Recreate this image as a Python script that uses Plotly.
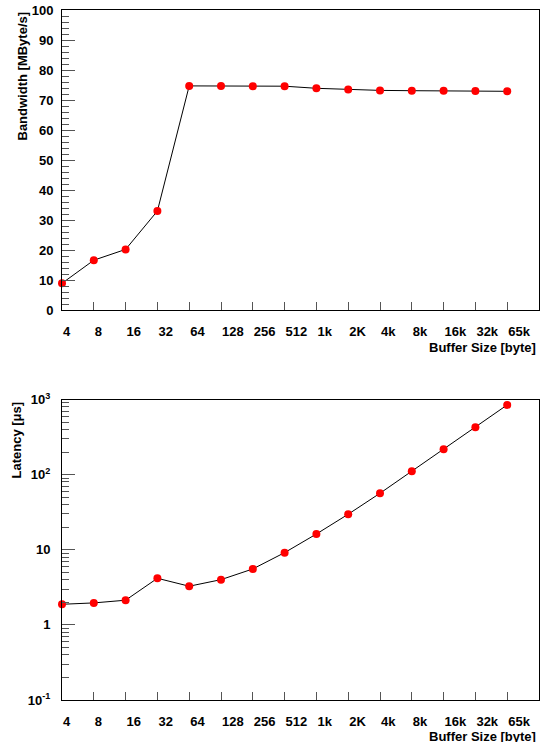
import plotly.graph_objects as go

buffer_labels = ["4", "8", "16", "32", "64", "128", "256", "512", "1k", "2K",
                 "4k", "8k", "16k", "32k", "65k"]
bandwidth_mb_s = [8.9, 16.6, 20.2, 33.0, 74.7, 74.7, 74.6, 74.6, 73.9, 73.5,
                  73.2, 73.1, 73.1, 73.0, 72.9]
latency_us = [1.88, 1.96, 2.13, 4.17, 3.27, 4.0, 5.55, 9.15, 16.2, 29.7,
              56.5, 111, 218, 428, 847]

W, H = 540, 742
x_idx = list(range(len(buffer_labels)))

def px_x(p):
    return p / W

def px_y(p):
    return 1 - p / H

FONT = "Liberation Sans, Arial, sans-serif"
tick_font = dict(family=FONT, size=13, color="black", weight="bold")

fig = go.Figure()
line_style = dict(color="black", width=1)
marker_style = dict(color="#ff0000", size=8)

fig.add_trace(go.Scatter(x=x_idx, y=bandwidth_mb_s, mode="lines+markers",
                         line=line_style, marker=marker_style, cliponaxis=False,
                         xaxis="x", yaxis="y", showlegend=False))
fig.add_trace(go.Scatter(x=x_idx, y=latency_us, mode="lines+markers",
                         line=line_style, marker=marker_style, cliponaxis=False,
                         xaxis="x2", yaxis="y2", showlegend=False))

x_dom = [px_x(62), px_x(539)]
top_dom = [px_y(310), px_y(10)]
bot_dom = [px_y(700), px_y(399.5)]

xaxis_common = dict(
    domain=x_dom, range=[0, 15], tickmode="array", tickvals=x_idx,
    ticktext=buffer_labels, ticks="inside", ticklen=8, tickwidth=1,
    tickcolor="#555", showline=True, linecolor="black", linewidth=1,
    mirror=True, showgrid=False, zeroline=False, tickfont=tick_font,
    ticklabelposition="outside right", ticklabelstandoff=9, automargin=False,
    ticklabeloverflow="allow",
)

minor_log = [k * 10 ** d for d in range(-1, 3) for k in range(2, 10)]

fig.update_layout(
    width=W, height=H,
    margin=dict(l=0, r=0, t=0, b=0),
    paper_bgcolor="white", plot_bgcolor="white",
    xaxis=dict(**xaxis_common, anchor="y"),
    xaxis2=dict(**xaxis_common, anchor="y2"),
    yaxis=dict(
        domain=top_dom, range=[0, 100], tickmode="linear", tick0=0, dtick=10,
        ticks="inside", ticklen=13, tickwidth=1, tickcolor="#555",
        minor=dict(dtick=2, ticks="inside", ticklen=7, tickcolor="#555"),
        showline=True, linecolor="black", linewidth=1, mirror=True,
        showgrid=False, zeroline=False, tickfont=tick_font,
        ticklabelstandoff=5, anchor="x", automargin=False,
        ticklabeloverflow="allow",
    ),
    yaxis2=dict(
        domain=bot_dom, type="log", range=[-1, 3], tickmode="array",
        tickvals=[0.1, 1, 10, 100, 1000],
        ticktext=["10<sup>-1</sup>", "1", "10", "10<sup>2</sup>", "10<sup>3</sup>"],
        ticks="inside", ticklen=13, tickwidth=1, tickcolor="#555",
        minor=dict(tickmode="array", tickvals=minor_log, ticks="inside",
                   ticklen=7, tickcolor="#555"),
        showline=True, linecolor="black", linewidth=1, mirror=True,
        showgrid=False, zeroline=False, tickfont=tick_font,
        ticklabelstandoff=8, anchor="x2", automargin=False,
        ticklabeloverflow="allow",
    ),
)

title_font = dict(family=FONT, size=13, color="black", weight="bold")
fig.add_annotation(text="Bandwidth [MByte/s]", textangle=-90, xref="paper",
                   yref="paper", x=px_x(22), y=px_y(10), xanchor="center",
                   yanchor="top", showarrow=False, font=title_font)
fig.add_annotation(text="Buffer Size [byte]", xref="paper", yref="paper",
                   x=px_x(538), y=px_y(348), xanchor="right", yanchor="middle",
                   showarrow=False, font=title_font)
fig.add_annotation(text="Latency [μs]", textangle=-90, xref="paper",
                   yref="paper", x=px_x(16), y=px_y(400), xanchor="center",
                   yanchor="top", showarrow=False, font=title_font)
fig.add_annotation(text="Buffer Size [byte]", xref="paper", yref="paper",
                   x=px_x(538), y=px_y(736), xanchor="right", yanchor="middle",
                   showarrow=False, font=title_font)

fig.write_html("out.html",
               config={"displayModeBar": False},
               post_script="document.body.style.margin='0';"
                           "document.body.style.overflow='hidden';")
